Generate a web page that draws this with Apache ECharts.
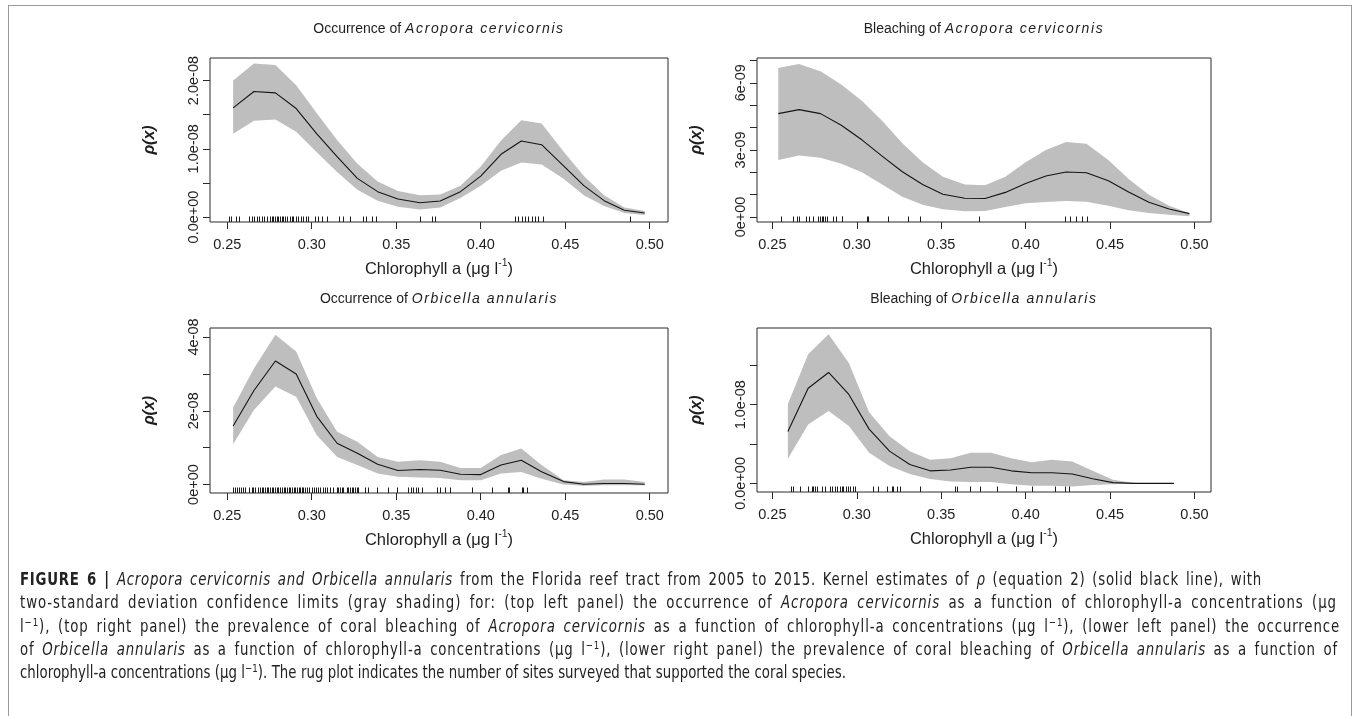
<!DOCTYPE html>
<html>
<head>
<meta charset="utf-8">
<script src="https://cdn.jsdelivr.net/npm/echarts@6/dist/echarts.min.js"></script>
<style>
  html, body { margin: 0; padding: 0; background: #fff; }
  #wrap { position: relative; width: 1360px; height: 716px; overflow: hidden; }
  #chart { position: absolute; left: 0; top: 0; width: 1360px; height: 716px; }
  #frame { position: absolute; left: 8px; top: 5px; width: 1344px; height: 760px; border: 1px solid #9a9a9a; box-sizing: border-box; }
  .ptitle { position: absolute; height: 20px; line-height: 20px; text-align: center; white-space: nowrap;
            font-family: "Liberation Sans", Arial, sans-serif; font-size: 14px; color: #1e1e1e; }
  .ptitle i { letter-spacing: 1.6px; }
  #caption { position: absolute; left: 20px; top: 568px; transform: scaleX(0.87); transform-origin: 0 0;
             font-family: "DejaVu Sans Condensed", "Liberation Sans", sans-serif; font-size: 17px; color: #222; }
  #caption div { white-space: nowrap; height: 23.3px; line-height: 23.3px; }
  #caption span.line { display: inline-block; white-space: nowrap; }
  #caption b { font-weight: bold; }
  #caption sup { font-size: 11px; vertical-align: 6px; line-height: 0; }
</style>
</head>
<body>
<div id="wrap">
  <div id="frame"></div>
  <div id="chart"></div>
  <div id="titles"></div>
  <div id="caption">
    <div data-w="1242"><span class="line"><b>FIGURE 6 |</b> <i>Acropora cervicornis and Orbicella annularis</i> from the Florida reef tract from 2005 to 2015. Kernel estimates of <i>ρ</i> (equation 2) (solid black line), with</span></div>
    <div data-w="1317"><span class="line">two-standard deviation confidence limits (gray shading) for: (top left panel) the occurrence of <i>Acropora cervicornis</i> as a function of chlorophyll-a concentrations (μg</span></div>
    <div data-w="1320"><span class="line">l<sup>−1</sup>), (top right panel) the prevalence of coral bleaching of <i>Acropora cervicornis</i> as a function of chlorophyll-a concentrations (μg l<sup>−1</sup>), (lower left panel) the occurrence</span></div>
    <div data-w="1318"><span class="line">of <i>Orbicella annularis</i> as a function of chlorophyll-a concentrations (μg l<sup>−1</sup>), (lower right panel) the prevalence of coral bleaching of <i>Orbicella annularis</i> as a function of</span></div>
    <div data-w="826"><span class="line">chlorophyll-a concentrations (μg l<sup>−1</sup>). The rug plot indicates the number of sites surveyed that supported the coral species.</span></div>
  </div>
</div>
<script>
// ---------- Occurrence of Acropora cervicornis (rho in units of 1e-8) ----------
const acOccX  = [0.2535, 0.2658, 0.2785, 0.2908, 0.3030, 0.3150, 0.3270, 0.3390, 0.3510, 0.3640, 0.3760, 0.3880, 0.4000, 0.4120, 0.4240, 0.4360, 0.4490, 0.4610, 0.4730, 0.4850, 0.4970];
const acOccRho = [1.60, 1.84, 1.82, 1.59, 1.22, 0.885, 0.567, 0.372, 0.264, 0.21, 0.235, 0.372, 0.60, 0.92, 1.115, 1.06, 0.75, 0.46, 0.24, 0.10, 0.06];
const acOccHi  = [2.00, 2.25, 2.23, 1.93, 1.52, 1.13, 0.78, 0.52, 0.38, 0.32, 0.33, 0.46, 0.74, 1.12, 1.42, 1.37, 0.96, 0.60, 0.32, 0.14, 0.09];
const acOccLo  = [1.22, 1.41, 1.43, 1.25, 0.95, 0.66, 0.40, 0.24, 0.15, 0.11, 0.14, 0.28, 0.46, 0.68, 0.80, 0.77, 0.56, 0.32, 0.16, 0.06, 0.03];
const acOccRug = [0.2510, 0.2522, 0.2549, 0.2569, 0.2630, 0.2644, 0.2658, 0.2674, 0.2687, 0.2703, 0.2717, 0.2733,
  0.2752, 0.2762, 0.2772, 0.2782, 0.2792, 0.2802, 0.2812, 0.2822, 0.2831, 0.2841, 0.2855, 0.2871, 0.2881, 0.2891,
  0.2906, 0.2920, 0.2934, 0.2950, 0.2964, 0.2979, 0.3019, 0.3038, 0.3058, 0.3088, 0.3161, 0.3186, 0.3226, 0.3305,
  0.3324, 0.3354, 0.3380, 0.3640, 0.3709, 0.3729, 0.4202, 0.4222, 0.4242, 0.4261, 0.4281, 0.4301, 0.4320, 0.4340,
  0.4366, 0.4884];
const acOccYTicks  = [0, 0.5, 1.0, 1.5, 2.0];
const acOccYLabels = [[0, '0.0e+00'], [1.0, '1.0e-08'], [2.0, '2.0e-08']];

// ---------- Bleaching of Acropora cervicornis (rho in units of 1e-9) ----------
const acBlX   = [0.2535, 0.2658, 0.2785, 0.2908, 0.3030, 0.3150, 0.3270, 0.3390, 0.3510, 0.3640, 0.3760, 0.3880, 0.4000, 0.4120, 0.4240, 0.4360, 0.4490, 0.4610, 0.4730, 0.4850, 0.4970];
const acBlRho = [4.62, 4.80, 4.62, 4.10, 3.45, 2.72, 2.02, 1.45, 1.02, 0.84, 0.83, 1.10, 1.50, 1.83, 2.01, 1.98, 1.62, 1.12, 0.66, 0.36, 0.15];
const acBlHi  = [6.66, 6.84, 6.51, 5.92, 5.20, 4.30, 3.30, 2.45, 1.80, 1.45, 1.42, 1.80, 2.45, 3.00, 3.35, 3.27, 2.55, 1.70, 1.00, 0.50, 0.17];
const acBlLo  = [2.55, 2.75, 2.65, 2.38, 2.00, 1.45, 0.90, 0.55, 0.35, 0.26, 0.27, 0.45, 0.62, 0.67, 0.72, 0.68, 0.50, 0.30, 0.18, 0.10, 0.03];
const acBlRug = [0.2549, 0.2624, 0.2648, 0.2658, 0.2699, 0.2719, 0.2739, 0.2773, 0.2782, 0.2792, 0.2802, 0.2812,
  0.2822, 0.2861, 0.2877, 0.2911, 0.2915, 0.3063, 0.3069, 0.3187, 0.3306, 0.3375, 0.3726, 0.4234, 0.4263, 0.4299,
  0.4333, 0.4366];
const acBlYTicks  = [0, 1, 2, 3, 4, 5, 6, 7];
const acBlYLabels = [[0, '0e+00'], [3, '3e-09'], [6, '6e-09']];

// ---------- Occurrence of Orbicella annularis (rho in units of 1e-8) ----------
const oaOccX   = [0.2535, 0.2658, 0.2785, 0.2908, 0.3030, 0.3150, 0.3270, 0.3390, 0.3510, 0.3640, 0.3760, 0.3880, 0.4000, 0.4120, 0.4240, 0.4360, 0.4490, 0.4610, 0.4730, 0.4850, 0.4970];
const oaOccRho = [1.59, 2.55, 3.35, 3.00, 1.85, 1.12, 0.85, 0.55, 0.38, 0.41, 0.39, 0.28, 0.27, 0.53, 0.66, 0.35, 0.08, 0.01, 0.03, 0.03, 0.01];
const oaOccHi  = [2.09, 3.15, 4.06, 3.61, 2.34, 1.43, 1.16, 0.75, 0.62, 0.66, 0.62, 0.45, 0.45, 0.80, 0.98, 0.53, 0.12, 0.07, 0.14, 0.14, 0.07];
const oaOccLo  = [1.09, 2.02, 2.66, 2.38, 1.34, 0.75, 0.53, 0.30, 0.21, 0.19, 0.18, 0.12, 0.12, 0.30, 0.34, 0.16, 0.00, -0.03, -0.02, -0.02, -0.02];
const oaOccRug = [0.2536, 0.2545, 0.2555, 0.2571, 0.2579, 0.2591, 0.2605, 0.2630, 0.2644, 0.2654, 0.2664, 0.2683,
  0.2693, 0.2703, 0.2713, 0.2723, 0.2733, 0.2743, 0.2753, 0.2763, 0.2773, 0.2783, 0.2793, 0.2803, 0.2813, 0.2823,
  0.2833, 0.2843, 0.2853, 0.2863, 0.2873, 0.2883, 0.2893, 0.2903, 0.2913, 0.2923, 0.2933, 0.2940, 0.2950, 0.2960,
  0.2973, 0.2985, 0.2999, 0.3013, 0.3025, 0.3038, 0.3048, 0.3068, 0.3078, 0.3088, 0.3107, 0.3127, 0.3147, 0.3157,
  0.3167, 0.3177, 0.3186, 0.3206, 0.3216, 0.3226, 0.3236, 0.3246, 0.3255, 0.3265, 0.3275, 0.3315, 0.3334, 0.3384,
  0.3453, 0.3502, 0.3571, 0.3585, 0.3601, 0.3616, 0.3630, 0.3650, 0.3739, 0.3758, 0.3788, 0.3818, 0.3946, 0.4064,
  0.4163, 0.4169, 0.4242, 0.4252, 0.4271];
const oaOccYTicks  = [0, 1, 2, 3, 4];
const oaOccYLabels = [[0, '0e+00'], [2, '2e-08'], [4, '4e-08']];

// ---------- Bleaching of Orbicella annularis (rho in units of 1e-8) ----------
const oaBlX   = [0.2592, 0.2712, 0.2833, 0.2953, 0.3073, 0.3194, 0.3314, 0.3434, 0.3555, 0.3675, 0.3795, 0.3915, 0.4036, 0.4156, 0.4276, 0.4397, 0.4517, 0.4637, 0.4758, 0.4878];
const oaBlRho = [0.66, 1.21, 1.41, 1.13, 0.69, 0.41, 0.24, 0.16, 0.17, 0.205, 0.205, 0.16, 0.135, 0.135, 0.12, 0.06, 0.01, 0.0, 0.0, 0.0];
const oaBlHi  = [1.01, 1.64, 1.895, 1.53, 0.905, 0.60, 0.41, 0.30, 0.32, 0.39, 0.39, 0.32, 0.27, 0.30, 0.28, 0.16, 0.047, 0.01, 0.0, 0.0];
const oaBlLo  = [0.315, 0.75, 0.92, 0.73, 0.39, 0.22, 0.12, 0.055, 0.025, 0.017, 0.017, -0.01, -0.03, -0.03, -0.04, -0.02, -0.01, 0.0, 0.0, 0.0];
const oaBlRug = [0.2609, 0.2620, 0.2664, 0.2713, 0.2733, 0.2743, 0.2753, 0.2763, 0.2792, 0.2812, 0.2842, 0.2852,
  0.2871, 0.2881, 0.2901, 0.2911, 0.2921, 0.2936, 0.2950, 0.2960, 0.2980, 0.2990, 0.3098, 0.3128, 0.3177, 0.3207,
  0.3217, 0.3237, 0.3256, 0.3375, 0.3582, 0.3592, 0.3671, 0.3730, 0.3829, 0.3943, 0.4040, 0.4175, 0.4234, 0.4254];
const oaBlYTicks  = [0, 0.5, 1.0, 1.5];
const oaBlYLabels = [[0, '0.0e+00'], [1.0, '1.0e-08']];

const xTicks = [0.25, 0.30, 0.35, 0.40, 0.45, 0.50];

// panel titles: [plain part, italic species name]
const titles = [
  ['Occurrence of ', 'Acropora cervicornis'],
  ['Bleaching of ', 'Acropora cervicornis'],
  ['Occurrence of ', 'Orbicella annularis'],
  ['Bleaching of ', 'Orbicella annularis']
];

// ---------- layout ----------
const panels = [
  { grid: { left: 210, top: 58, width: 458, height: 164 }, xr: [0.2398, 0.5108], yr: [-0.073, 2.331],
    x: acOccX, rho: acOccRho, hi: acOccHi, lo: acOccLo, rug: acOccRug, yt: acOccYTicks, yl: acOccYLabels },
  { grid: { left: 757, top: 58, width: 454, height: 164 }, xr: [0.2409, 0.5098], yr: [-0.2235, 7.107],
    x: acBlX, rho: acBlRho, hi: acBlHi, lo: acBlLo, rug: acBlRug, yt: acBlYTicks, yl: acBlYLabels },
  { grid: { left: 210, top: 328, width: 458, height: 165 }, xr: [0.2398, 0.5108], yr: [-0.2286, 4.245],
    x: oaOccX, rho: oaOccRho, hi: oaOccHi, lo: oaOccLo, rug: oaOccRug, yt: oaOccYTicks, yl: oaOccYLabels },
  { grid: { left: 757, top: 328, width: 454, height: 164 }, xr: [0.2409, 0.5098], yr: [-0.109, 1.975],
    x: oaBlX, rho: oaBlRho, hi: oaBlHi, lo: oaBlLo, rug: oaBlRug, yt: oaBlYTicks, yl: oaBlYLabels }
];

const FONT = '"Liberation Sans", Arial, sans-serif';
const INK = '#1e1e1e';

// caption: justify each line to its measure, mostly through letter spacing
const CAPTION_SCALE = 0.87;
document.querySelectorAll('#caption div').forEach(row => {
  const span = row.querySelector('span.line');
  const natural = span.getBoundingClientRect().width / CAPTION_SCALE;
  const target = parseFloat(row.dataset.w) / CAPTION_SCALE;
  const txt = span.textContent;
  const gaps = (txt.match(/ /g) || []).length;
  const extra = target - natural;
  span.style.letterSpacing = (0.7 * extra / txt.length).toFixed(4) + 'px';
  if (gaps > 0) span.style.wordSpacing = (0.3 * extra / gaps).toFixed(4) + 'px';
});

// panel titles as text above each plot box
const titleHost = document.getElementById('titles');
panels.forEach((p, i) => {
  const d = document.createElement('div');
  d.className = 'ptitle';
  d.style.left = p.grid.left + 'px';
  d.style.width = p.grid.width + 'px';
  d.style.top = (p.grid.top - 40) + 'px';
  d.appendChild(document.createTextNode(titles[i][0]));
  const it = document.createElement('i');
  it.textContent = titles[i][1];
  d.appendChild(it);
  titleHost.appendChild(d);
});

const chart = echarts.init(document.getElementById('chart'), null, { renderer: 'canvas' });

const grids = [], xAxes = [], yAxes = [], series = [];

panels.forEach((p, i) => {
  grids.push(Object.assign({ show: true, borderColor: '#2a2a2a', borderWidth: 1, backgroundColor: 'transparent', containLabel: false }, p.grid));

  xAxes.push({
    type: 'value', gridIndex: i, min: p.xr[0], max: p.xr[1],
    axisLine: { show: false, onZero: false },
    splitLine: { show: false },
    axisTick: { show: true, length: 7, inside: false, customValues: xTicks, lineStyle: { color: '#2a2a2a', width: 1 } },
    axisLabel: { show: true, customValues: xTicks, margin: 15.5, fontFamily: FONT, fontSize: 14.5, color: INK,
      formatter: v => v.toFixed(2) },
    name: '{a|Chlorophyll a (μg l}{s|-1}{a|)}',
    nameLocation: 'middle', nameGap: 36,
    nameTextStyle: { rich: {
      a: { fontFamily: FONT, fontSize: 16.5, color: INK, lineHeight: 22 },
      s: { fontFamily: FONT, fontSize: 10.5, color: INK, verticalAlign: 'top', lineHeight: 22 }
    } }
  });

  const labelMap = p.yl;
  yAxes.push({
    type: 'value', gridIndex: i, min: p.yr[0], max: p.yr[1],
    axisLine: { show: false, onZero: false },
    splitLine: { show: false },
    axisTick: { show: true, length: 7, inside: false, customValues: p.yt, lineStyle: { color: '#2a2a2a', width: 1 } },
    axisLabel: { show: true, customValues: labelMap.map(d => d[0]), rotate: 90, margin: 9, fontFamily: FONT, fontSize: 14.5, color: INK,
      formatter: v => { const hit = labelMap.find(d => Math.abs(d[0] - v) < 1e-6); return hit ? hit[1] : ''; } },
    name: 'ρ(x)', nameLocation: 'middle', nameGap: 52,
    nameTextStyle: { fontFamily: FONT, fontSize: 16, fontWeight: 'bold', fontStyle: 'italic', color: INK }
  });

  // confidence band as one closed polygon: upper limit left->right, lower limit right->left
  series.push({
    type: 'custom', xAxisIndex: i, yAxisIndex: i, z: 1, silent: true,
    data: p.x.map((x, k) => [x, p.lo[k], p.hi[k]]),
    encode: { x: 0, y: [1, 2] },
    renderItem: (params, api) => {
      if (params.dataIndex !== 0) return null;
      const pts = [];
      for (let k = 0; k < p.x.length; k++) pts.push(api.coord([p.x[k], p.hi[k]]));
      for (let k = p.x.length - 1; k >= 0; k--) pts.push(api.coord([p.x[k], p.lo[k]]));
      return { type: 'polygon', shape: { points: pts }, style: { fill: '#bebebe', stroke: null } };
    }
  });

  // kernel estimate
  series.push({
    type: 'line', xAxisIndex: i, yAxisIndex: i, z: 3, silent: true,
    data: p.x.map((x, k) => [x, p.rho[k]]),
    showSymbol: false, symbol: 'none', smooth: false,
    lineStyle: { color: '#141414', width: 1.1 }
  });

  // rug of surveyed sites, ticks rising from the bottom of the plot box
  series.push({
    type: 'custom', xAxisIndex: i, yAxisIndex: i, z: 4, silent: true,
    data: p.rug.map(x => [x, p.yr[0]]),
    encode: { x: 0, y: 1 },
    renderItem: (params, api) => {
      const c = api.coord([api.value(0), api.value(1)]);
      const x = Math.round(c[0]) + 0.5;
      return { type: 'line', shape: { x1: x, y1: c[1], x2: x, y2: c[1] - 5.5 }, style: { stroke: '#1e1e1e', lineWidth: 1 } };
    }
  });
});

chart.setOption({
  animation: false,
  backgroundColor: 'transparent',
  grid: grids,
  xAxis: xAxes,
  yAxis: yAxes,
  series: series
});
</script>
</body>
</html>
